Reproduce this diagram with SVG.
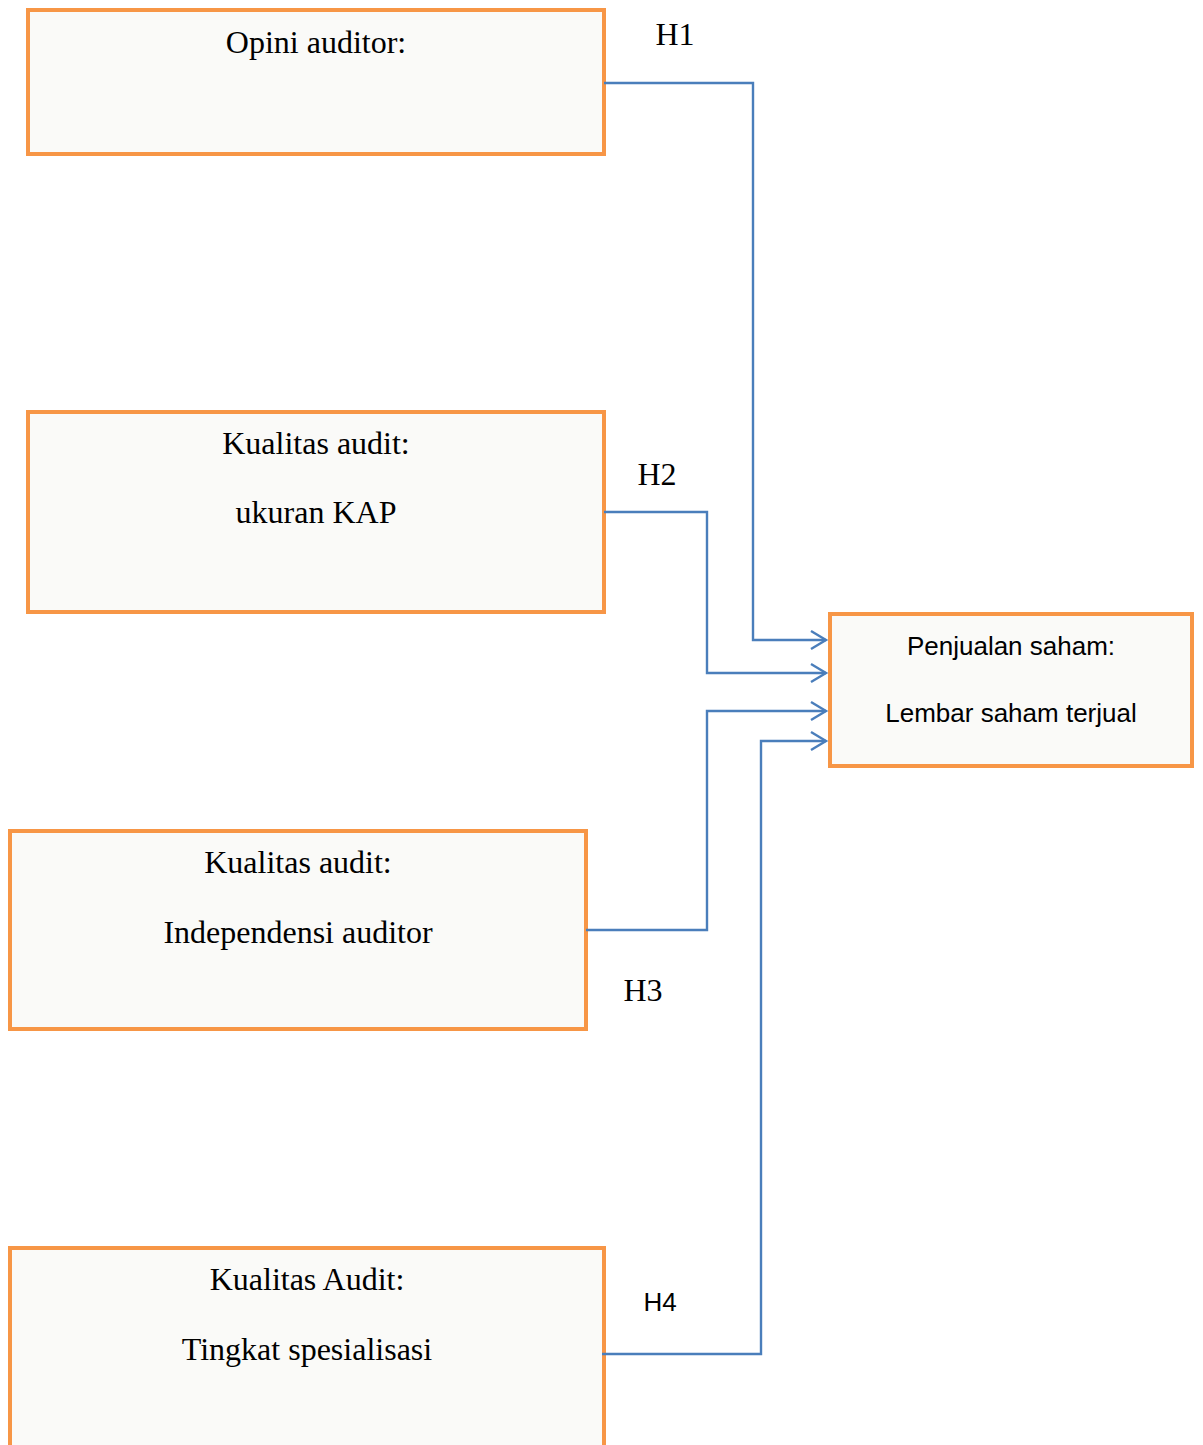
<svg xmlns="http://www.w3.org/2000/svg" width="1203" height="1445" viewBox="0 0 1203 1445">
<style>
.box{fill:#FAFAF8;stroke:#F79646;stroke-width:4}
.ser{font-family:"Liberation Serif","Times New Roman",serif;font-size:32px;fill:#000;text-anchor:middle}
.san{font-family:"Liberation Sans",Arial,sans-serif;font-size:26px;fill:#000;text-anchor:middle}
.con{fill:none;stroke:#4A7EBB;stroke-width:2.4}
</style>
<defs>
<marker id="arr" markerWidth="22" markerHeight="22" refX="18" refY="11" orient="auto" markerUnits="userSpaceOnUse">
<path d="M3,2 L18,11 L3,20" fill="none" stroke="#4A7EBB" stroke-width="2.4"/>
</marker>
</defs>
<rect width="1203" height="1445" fill="#fff"/>
<g id="n1"><rect class="box" x="28" y="10" width="576" height="144"/><text class="ser" x="316" y="53">Opini auditor:</text></g>
<g id="n2"><rect class="box" x="28" y="412" width="576" height="200"/><text class="ser" x="316" y="454">Kualitas audit:</text><text class="ser" x="316" y="523">ukuran KAP</text></g>
<g id="n3"><rect class="box" x="10" y="831" width="576" height="198"/><text class="ser" x="298" y="873">Kualitas audit:</text><text class="ser" x="298" y="943">Independensi auditor</text></g>
<g id="n4"><rect class="box" x="10" y="1248" width="594" height="230"/><text class="ser" x="307" y="1290">Kualitas Audit:</text><text class="ser" x="307" y="1360">Tingkat spesialisasi</text></g>
<g id="n5"><rect class="box" x="830" y="614" width="362" height="152"/><text class="san" x="1011" y="655">Penjualan saham:</text><text class="san" x="1011" y="722">Lembar saham terjual</text></g>
<g id="connectors">
<path class="con" d="M604,83 H753 V640 H826" marker-end="url(#arr)"/>
<path class="con" d="M604,512 H707 V673 H826" marker-end="url(#arr)"/>
<path class="con" d="M586,930 H707 V711 H826" marker-end="url(#arr)"/>
<path class="con" d="M602,1354 H761 V741 H826" marker-end="url(#arr)"/>
</g>
<g id="labels">
<text class="ser" x="675" y="45">H1</text>
<text class="ser" x="657" y="485">H2</text>
<text class="ser" x="643" y="1001">H3</text>
<text class="san" x="660" y="1311">H4</text>
</g>
</svg>
